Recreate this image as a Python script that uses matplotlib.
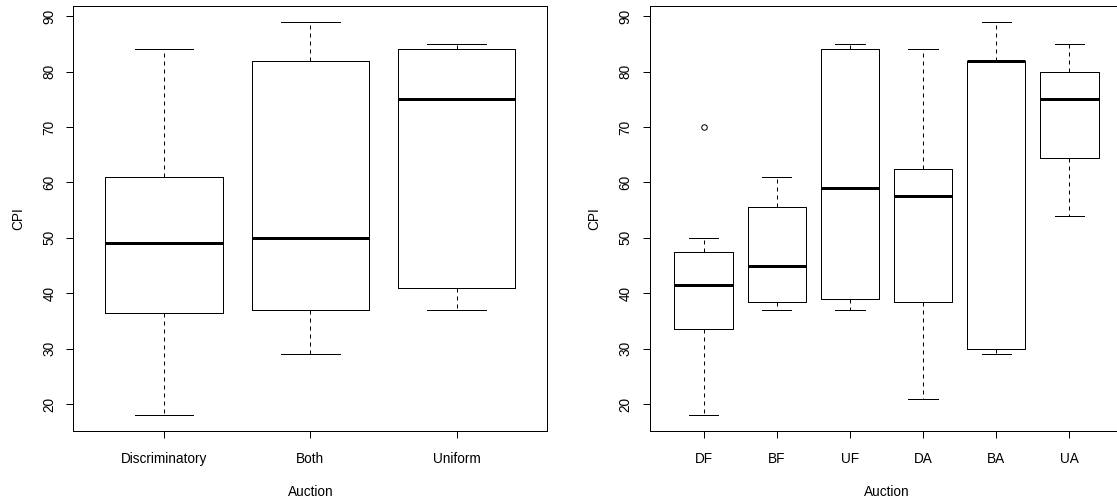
import matplotlib
matplotlib.use("Agg")
import matplotlib.pyplot as plt

plt.rcParams['font.family'] = ['Liberation Sans', 'DejaVu Sans']

# ---- data: left panel ----
left_labels = ["Discriminatory", "Both", "Uniform"]
left_whislo = [18, 29, 37]
left_q1 = [36.5, 37, 41]
left_med = [49, 50, 75]
left_q3 = [61, 82, 84]
left_whishi = [84, 89, 85]
left_fliers = [[], [], []]

# ---- data: right panel ----
right_labels = ["DF", "BF", "UF", "DA", "BA", "UA"]
right_whislo = [18, 37, 37, 21, 29, 54]
right_q1 = [33.5, 38.5, 39, 38.5, 30, 64.5]
right_med = [41.5, 45, 59, 57.5, 82, 75]
right_q3 = [47.5, 55.5, 84, 62.5, 82, 80]
right_whishi = [50, 61, 85, 84, 89, 85]
right_fliers = [[70], [], [], [], [], []]

yticks = [20, 30, 40, 50, 60, 70, 80, 90]

W, H = 1117, 497
fig = plt.figure(figsize=(W / 100, H / 100), dpi=100)

px = 0.72  # points per pixel at 100 dpi
fs = 13.6 * px


def make_stats(labels, lo, q1, med, q3, hi, fl):
    return [dict(label=l, whislo=a, q1=b, med=c, q3=d, whishi=e, fliers=f)
            for l, a, b, c, d, e, f in zip(labels, lo, q1, med, q3, hi, fl)]


def draw(ax, stats, n):
    lw = 1 * px
    ax.bxp(stats, positions=list(range(1, n + 1)), widths=0.8, capwidths=0.4,
           showfliers=True,
           boxprops=dict(color='black', linewidth=lw),
           medianprops=dict(color='black', linewidth=3 * px, solid_capstyle='butt'),
           whiskerprops=dict(color='black', linewidth=lw, linestyle=(0, (4, 4))),
           capprops=dict(color='black', linewidth=lw),
           flierprops=dict(marker='o', markerfacecolor='none', markeredgecolor='black',
                           markersize=5.5 * px, markeredgewidth=lw))
    span = n
    ax.set_xlim(0.5 - 0.04 * span, n + 0.5 + 0.04 * span)
    ax.set_ylim(15.16, 91.84)
    ax.set_yticks(yticks)
    ax.set_yticklabels([str(t) for t in yticks], rotation=90, va='center', fontsize=fs)
    ax.tick_params(axis='y', length=7 * px, width=lw, pad=10 * px)
    ax.tick_params(axis='x', length=7 * px, width=lw, pad=14 * px, labelsize=fs)
    for s in ax.spines.values():
        s.set_linewidth(lw)
        s.set_color('black')
    ax.set_xlabel("Auction", fontsize=fs, labelpad=19 * px)
    ax.set_ylabel("CPI", fontsize=fs, labelpad=17 * px)


ax1 = fig.add_axes([73.3 / W, (H - 431) / H, 474 / W, 425 / H])
draw(ax1, make_stats(left_labels, left_whislo, left_q1, left_med, left_q3,
                     left_whishi, left_fliers), len(left_labels))

ax2 = fig.add_axes([649.5 / W, (H - 431) / H, 474 / W, 425 / H])
draw(ax2, make_stats(right_labels, right_whislo, right_q1, right_med, right_q3,
                     right_whishi, right_fliers), len(right_labels))

fig.savefig("out.png", dpi=100)
